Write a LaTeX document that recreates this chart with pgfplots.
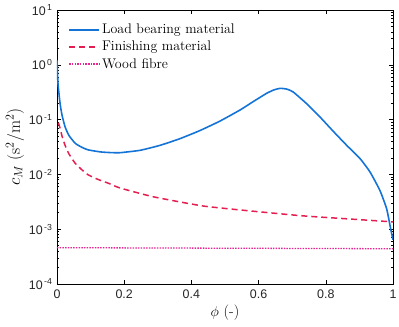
\documentclass[border=0pt]{standalone}
\usepackage{fontspec}
\usepackage{pgfplots}
\pgfplotsset{compat=1.18}
\newfontfamily\helv{Liberation Sans}
\definecolor{cblue}{RGB}{20,115,215}
\definecolor{cred}{RGB}{228,30,80}
\definecolor{cmag}{RGB}{228,40,150}
\begin{document}
\begin{tikzpicture}
\begin{axis}[
  name=ax,
  scale only axis,
  width=336bp, height=274bp,
  xmin=0, xmax=1,
  ymode=log, ymin=1e-4, ymax=10,
  xtick={0,0.2,0.4,0.6,0.8,1},
  xticklabels={0,0.2,0.4,0.6,0.8,1},
  ytick={1e-4,1e-3,1e-2,1e-1,1,10},
  yticklabels={10\textsuperscript{\,-4},10\textsuperscript{\,-3},10\textsuperscript{\,-2},10\textsuperscript{\,-1},10\textsuperscript{\,0},10\textsuperscript{\,1}},
  tick label style={font=\helv\fontsize{12.5}{14}\selectfont, text=black!85},
  xticklabel style={yshift=-2bp},
  yticklabel style={xshift=-1bp},
  tick align=inside,
  major tick length=4bp,
  minor tick length=2.5bp,
  tick style={black, line width=0.5pt},
  axis line style={black, line width=0.9pt},
  xlabel={$\phi$ (-)},
  ylabel={$c_M$ (s$^2$/m$^2$)},
  xlabel style={font=\fontsize{15.5}{18}\selectfont, yshift=0bp},
  ylabel style={font=\fontsize{17}{20}\selectfont, yshift=-2bp},
  legend style={draw=none, fill=none, at={(0.03,0.96)}, anchor=north west,
    font=\fontsize{14}{17}\selectfont, row sep=2bp, inner sep=1bp},
  legend cell align=left,
  legend image code/.code={\draw[#1] (0bp,0bp) -- (30bp,0bp);},
]
\addplot[color=cblue, line width=1.6pt, smooth, tension=0.3,
  legend image post style={line width=1.8pt, color=cblue}] coordinates {
(0,1.2) (0.003,0.45) (0.009,0.2) (0.015,0.12) (0.024,0.074) (0.035,0.052)
(0.054,0.037) (0.075,0.031) (0.093,0.028) (0.13,0.0257) (0.16,0.0250)
(0.1875,0.0249) (0.247,0.0275) (0.3065,0.0339) (0.366,0.0449) (0.4256,0.0632)
(0.485,0.094) (0.545,0.150) (0.584,0.213) (0.624,0.302) (0.645,0.347)
(0.664,0.372) (0.684,0.36) (0.703,0.319) (0.743,0.195) (0.783,0.111)
(0.8224,0.061) (0.862,0.034) (0.902,0.0194) (0.9315,0.0111) (0.961,0.0051)
(0.981,0.00237) (0.993,0.00102) (1.0,0.00064)
};
\addlegendentry{Load bearing material}
\addplot[cred, line width=1.5pt, dash pattern=on 6bp off 4bp, smooth, tension=0.3] coordinates {
(0.004,0.088) (0.009,0.070) (0.015,0.050) (0.024,0.034) (0.035,0.024)
(0.054,0.016) (0.075,0.012) (0.093,0.0098) (0.12,0.0082) (0.153,0.0069)
(0.1875,0.00565) (0.287,0.0039) (0.435,0.00265) (0.584,0.00213)
(0.733,0.00175) (0.882,0.00152) (1.0,0.00136)
};
\addlegendentry{Finishing material}
\addplot[cmag, line width=1.3pt, dash pattern=on 1.5bp off 1.2bp] coordinates {
(0,0.00046) (0.5,0.00045) (1,0.00044)
};
\addlegendentry{Wood fibre}
\end{axis}
\pgfresetboundingbox
\path (ax.south west) ++(-57bp,-43bp) coordinate (bl);
\path (ax.north east) ++(6bp,10bp) coordinate (tr);
\path (bl) rectangle (tr);
\end{tikzpicture}
\end{document}
